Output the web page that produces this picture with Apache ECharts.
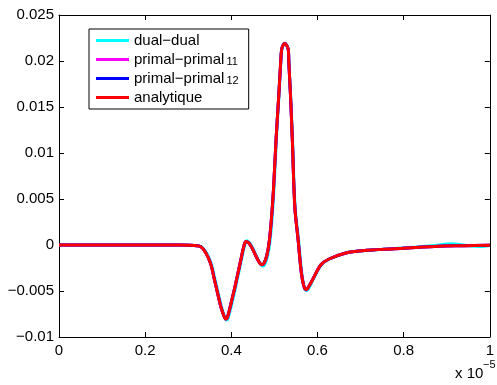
<!DOCTYPE html>
<html><head><meta charset="utf-8">
<script src="https://cdn.jsdelivr.net/npm/echarts@6/dist/echarts.min.js"></script>
<style>html,body{margin:0;padding:0;background:#fff}#c{width:497px;height:385px}</style>
</head><body><div id="c"></div>
<script>
// x in units of 1e-5, y in actual units
const xTicks = [0, 0.2, 0.4, 0.6, 0.8, 1];
const yTicks = [-0.01, -0.005, 0, 0.005, 0.01, 0.015, 0.02, 0.025];
const seriesNames = ['dual\u2212dual', 'primal\u2212primal11', 'primal\u2212primal12', 'analytique'];

const analytX = [0, 0.1, 0.2, 0.28, 0.305, 0.32, 0.329, 0.3375, 0.345, 0.3527, 0.36, 0.368, 0.3756, 0.3833, 0.387, 0.391, 0.3985, 0.406, 0.4138, 0.4213, 0.429, 0.434, 0.4406, 0.448, 0.4557, 0.4635, 0.471, 0.4763, 0.4825, 0.4875, 0.4925, 0.4978, 0.5038, 0.510, 0.5145, 0.5168, 0.5206, 0.5244, 0.5284, 0.5322, 0.5335, 0.5374, 0.5416, 0.5473, 0.555, 0.5626, 0.5685, 0.5741, 0.581, 0.5894, 0.608, 0.627, 0.666, 0.704, 0.78, 0.872, 0.94, 1.0];
const analytY = [0, 0, 0, 0, -0.00002, -0.00008, -0.0002, -0.0006, -0.00124, -0.00214, -0.0036, -0.0052, -0.0067, -0.00777, -0.00805, -0.00785, -0.0065, -0.00505, -0.0034, -0.00178, -0.00015, 0.00039, 0.00022, -0.00033, -0.00106, -0.00178, -0.00214, -0.00196, -0.0011, 0.0002, 0.0025, 0.006, 0.01145, 0.01617, 0.0198, 0.02125, 0.02175, 0.0219, 0.0217, 0.02125, 0.0198, 0.01617, 0.01145, 0.0042, 0.00058, -0.00305, -0.0045, -0.00486, -0.0044, -0.0037, -0.00214, -0.00152, -0.00087, -0.00062, -0.0004, -0.00015, -0.00008, -0.00004];
const primal11Y = [0, 0, 0, 0, -0.00002, -0.00008, -0.0002, -0.0006, -0.00124, -0.00214, -0.0036, -0.0052, -0.0067, -0.00777, -0.00805, -0.00785, -0.0065, -0.00505, -0.0034, -0.00178, -0.00015, 0.00039, 0.00022, -0.00033, -0.00106, -0.00178, -0.00214, -0.00196, -0.0011, 0.0002, 0.0025, 0.006, 0.01145, 0.01617, 0.0198, 0.02125, 0.02175, 0.0219, 0.0217, 0.02125, 0.0198, 0.01617, 0.01145, 0.0042, 0.00058, -0.00305, -0.0045, -0.00486, -0.0044, -0.0037, -0.00214, -0.00152, -0.00087, -0.00062, -0.0004, -0.00015, -0.00008, -0.00004];
const primal12Y = [0, 0, 0, 0, -0.00002, -0.00008, -0.0002, -0.0006, -0.00124, -0.00214, -0.0036, -0.0052, -0.0067, -0.00777, -0.00805, -0.00785, -0.0065, -0.00505, -0.0034, -0.00178, -0.00015, 0.00039, 0.00022, -0.00033, -0.00106, -0.00178, -0.00214, -0.00196, -0.0011, 0.0002, 0.0025, 0.006, 0.01145, 0.01617, 0.0198, 0.02125, 0.02178, 0.02192, 0.0217, 0.02125, 0.0198, 0.01617, 0.01145, 0.0042, 0.00058, -0.00305, -0.0045, -0.00488, -0.0044, -0.0037, -0.00214, -0.00152, -0.00087, -0.00062, -0.0004, -0.00015, -0.00008, -0.00004];

const dualX = [0, 0.1, 0.2, 0.28, 0.306, 0.321, 0.3305, 0.339, 0.3465, 0.3542, 0.3615, 0.3695, 0.3771, 0.3848, 0.3885, 0.3925, 0.4, 0.4075, 0.4153, 0.4228, 0.4305, 0.4355, 0.4421, 0.4495, 0.4572, 0.465, 0.4725, 0.4778, 0.484, 0.489, 0.494, 0.4988, 0.5045, 0.5105, 0.5148, 0.517, 0.5208, 0.5246, 0.5286, 0.5324, 0.5337, 0.5377, 0.542, 0.548, 0.556, 0.5636, 0.5695, 0.5751, 0.582, 0.5904, 0.609, 0.628, 0.666, 0.704, 0.78, 0.83, 0.872, 0.91, 0.95, 0.98, 1.0];
const dualY = [0, 0, 0, 0, -0.00002, -0.00008, -0.0002, -0.0006, -0.00124, -0.00214, -0.0036, -0.0052, -0.0067, -0.00785, -0.00815, -0.00795, -0.0066, -0.0051, -0.0034, -0.00175, -0.0001, 0.00045, 0.00026, -0.00033, -0.0011, -0.00185, -0.0023, -0.0021, -0.0012, 0.0001, 0.0025, 0.006, 0.01145, 0.01617, 0.0198, 0.02125, 0.02175, 0.0219, 0.0217, 0.02125, 0.0198, 0.01617, 0.01145, 0.0042, 0.00058, -0.0031, -0.0046, -0.00495, -0.0045, -0.0037, -0.00214, -0.00152, -0.00087, -0.00062, -0.00038, -0.00022, -0.00005, 0.00014, -0.00008, -0.00016, -0.00005];

const FONT = 'Liberation Sans';
function zip(xs, ys) { return xs.map((x, i) => [x, ys[i]]); }

const chart = echarts.init(document.getElementById('c'), null, {renderer: 'canvas'});
const colors = ['#00FFFF', '#FF00FF', '#0000FF', '#FF0000'];
const datasets = [zip(dualX, dualY), zip(analytX, primal11Y), zip(analytX, primal12Y), zip(analytX, analytY)];

const axisCommon = {
  axisLine: {show: true, onZero: false, lineStyle: {color: '#000', width: 1}},
  axisTick: {show: true, inside: true, length: 5, lineStyle: {color: '#000', width: 1}},
  splitLine: {show: false}
};

chart.setOption({
  animation: false,
  backgroundColor: '#fff',
  grid: {left: 59, right: 2, top: 15, bottom: 48, containLabel: false},
  xAxis: [
    Object.assign({type: 'value', min: xTicks[0], max: xTicks[xTicks.length - 1], interval: 0.2, position: 'bottom',
      axisLabel: {show: true, margin: 6, color: '#000', fontFamily: FONT, fontSize: 15,
        formatter: v => String(+v.toFixed(1))}}, axisCommon),
    Object.assign({type: 'value', min: xTicks[0], max: xTicks[xTicks.length - 1], interval: 0.2, position: 'top',
      axisLabel: {show: false}}, axisCommon)
  ],
  yAxis: [
    Object.assign({type: 'value', min: yTicks[0], max: yTicks[yTicks.length - 1], interval: 0.005, position: 'left',
      axisLabel: {show: true, margin: 5, color: '#000', fontFamily: FONT, fontSize: 15,
        formatter: v => { const r = +v.toFixed(3); return r === 0 ? '0' : String(r).replace('-', '\u2212'); }}}, axisCommon),
    Object.assign({type: 'value', min: yTicks[0], max: yTicks[yTicks.length - 1], interval: 0.005, position: 'right',
      axisLabel: {show: false}}, axisCommon)
  ],
  legend: {
    orient: 'vertical', left: 89, top: 29,
    padding: [4, 10, 4, 7], itemGap: 4, itemWidth: 33, itemHeight: 3, icon: 'rect',
    borderColor: '#000', borderWidth: 1, borderRadius: 0, backgroundColor: '#fff',
    data: seriesNames,
    formatter: name => {
      const m = name.match(/^(.*?)(\d+)$/);
      return m ? '{a|' + m[1] + '}{s|' + m[2] + '}' : '{a|' + name + '}';
    },
    textStyle: {
      color: '#000', fontFamily: FONT, fontSize: 15,
      rich: {
        a: {color: '#000', fontFamily: FONT, fontSize: 15, lineHeight: 15},
        s: {color: '#000', fontFamily: FONT, fontSize: 11, lineHeight: 6, verticalAlign: 'bottom', padding: [0, 0, 0, 2]}
      }
    }
  },
  graphic: [
    {type: 'text', left: 455, top: 366, style: {text: 'x 10', font: '15px "' + FONT + '"', fill: '#000'}},
    {type: 'text', left: 483, top: 359, style: {text: '\u22125', font: '11px "' + FONT + '"', fill: '#000'}}
  ],
  series: seriesNames.map((n, i) => ({
    name: n, type: 'line', xAxisIndex: 0, yAxisIndex: 0,
    data: datasets[i], showSymbol: false, symbol: 'none', smooth: 0.35,
    lineStyle: {color: colors[i], width: 3}, itemStyle: {color: colors[i]},
    z: 2 + i
  }))
});
</script></body></html>
